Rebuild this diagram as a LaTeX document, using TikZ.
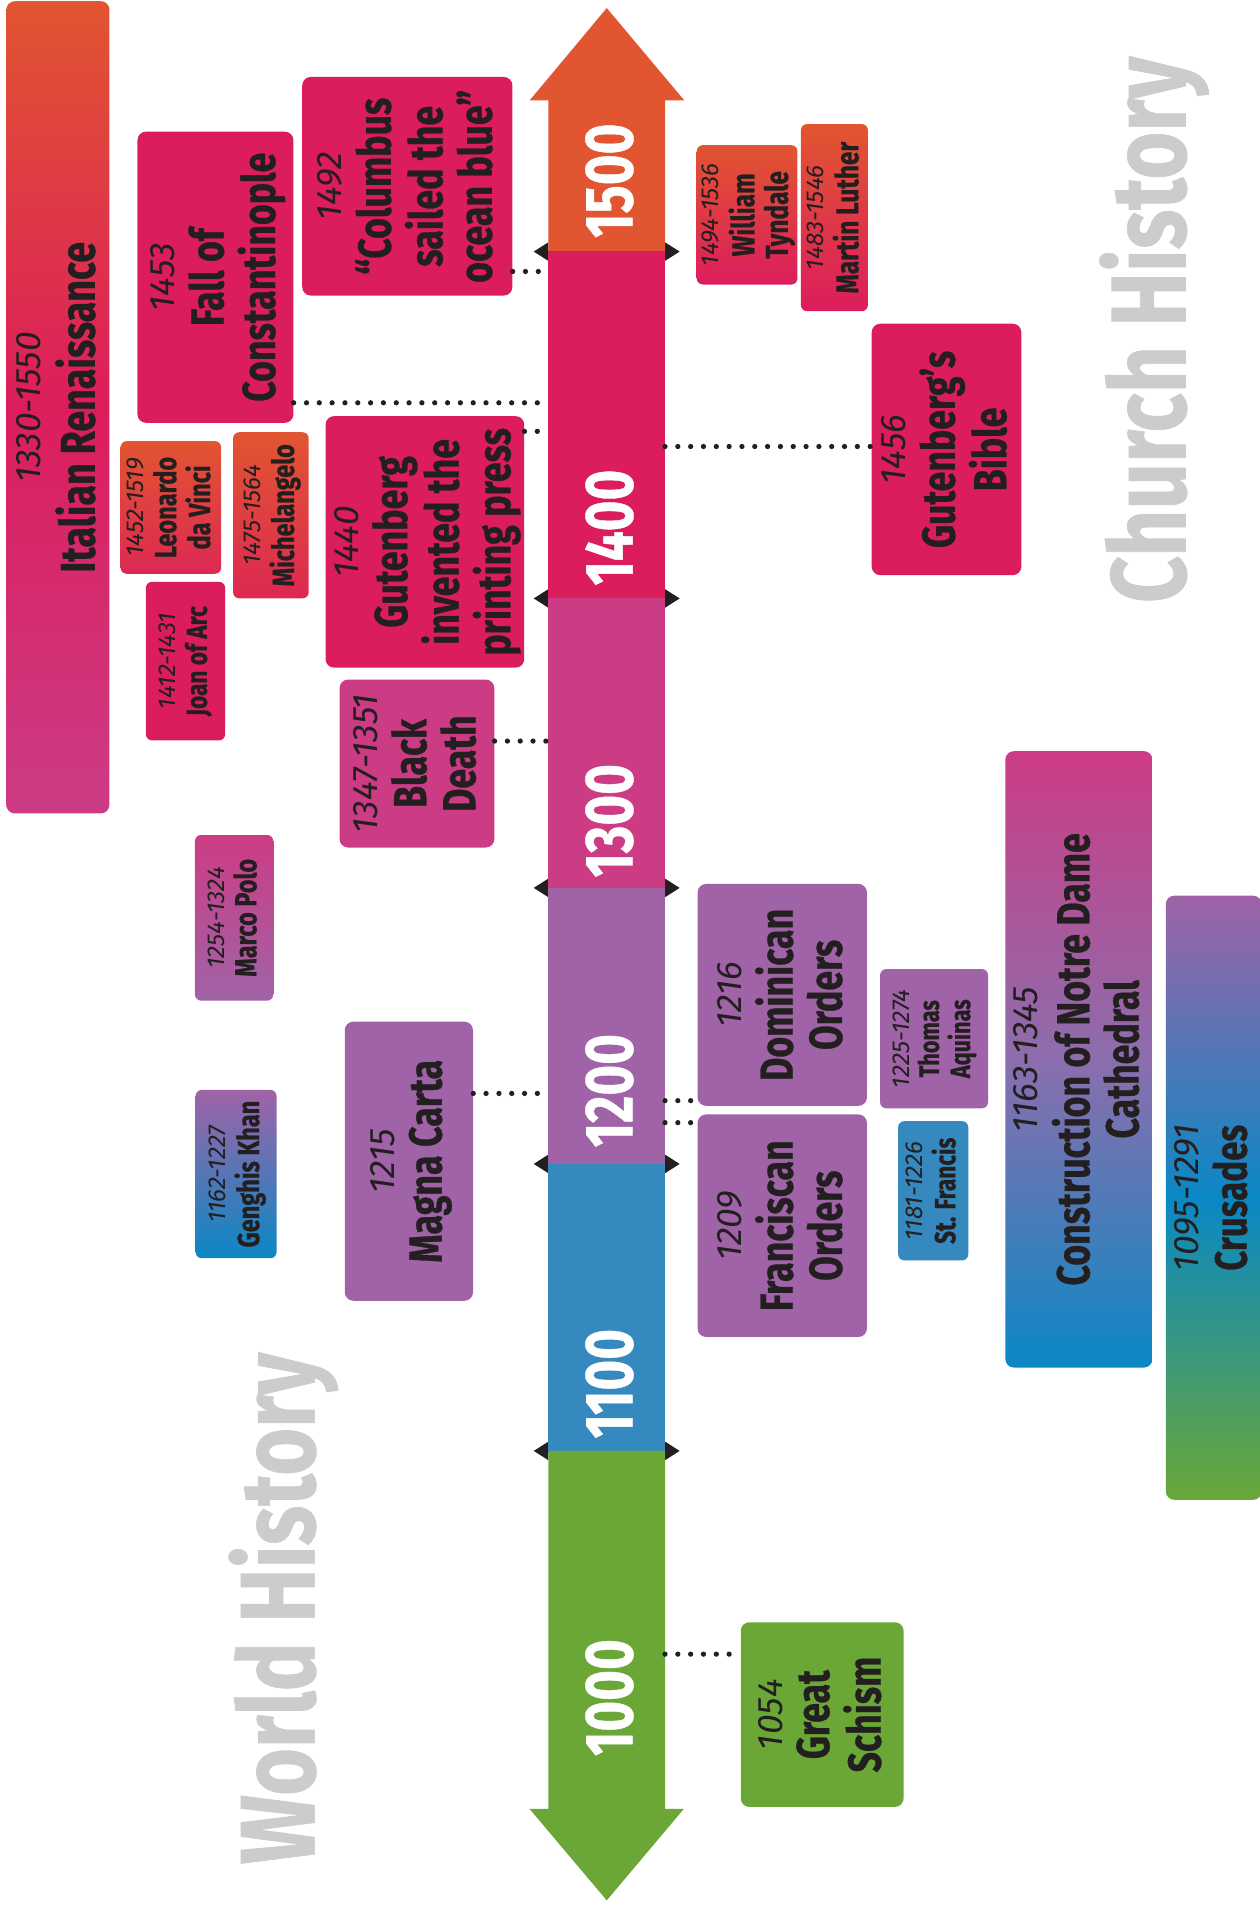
\documentclass[tikz,border=0pt]{standalone}
\usepackage{fontspec}
\setmainfont{Fira Sans}[FakeStretch=0.77,BoldFeatures={FakeBold=0.6}]
\newfontfamily\yrfont{Fira Sans}
\usepackage{array}
\usetikzlibrary{arrows.meta}

\definecolor{orangeC}{HTML}{E15530}
\definecolor{pinkC}{HTML}{DC1D5C}
\definecolor{magentaC}{HTML}{CC3C85}
\definecolor{purpleC}{HTML}{A063A7}
\definecolor{midpurpleC}{HTML}{8C6EAD}
\definecolor{blueC}{HTML}{3589BF}
\definecolor{deepblueC}{HTML}{0A88C5}
\definecolor{greenC}{HTML}{6AA737}
\definecolor{inkC}{HTML}{231F20}
\definecolor{grayC}{HTML}{CCCCCC}

\newcommand{\evt}[4]{\rotatebox{90}{\fontsize{#2}{#2}\selectfont\begin{tabular}{@{}>{\bfseries}c@{}}{\yrfont\fontsize{#1}{#1}\selectfont\mdseries\itshape #3}\\#4\end{tabular}}}

\begin{document}
\begin{tikzpicture}[x=1pt,y=-1pt,
	evbox/.style={rounded corners=7pt,inner sep=0pt,text=inkC},
	smallbox/.style={rounded corners=5pt,inner sep=0pt,text=inkC},
	dotlink/.style={inkC,line width=4.3pt,line cap=round,dash pattern=on 0pt off 10.5pt},
	eratick/.style={inkC,line width=1pt,{Triangle[length=12pt,width=15pt]}-{Triangle[length=12pt,width=15pt]}},
	axislbl/.style={text=white,rotate=90,inner sep=0pt,font=\fontsize{56}{56}\selectfont\bfseries},
	bigtitle/.style={text=grayC,rotate=90,inner sep=0pt,font=\fontsize{87}{87}\selectfont\bfseries}]
	\useasboundingbox (0,0) rectangle (1031,1568);

	\draw[eratick] (437,206) -- (556.5,206);
	\draw[eratick] (437,490) -- (556.5,490);
	\draw[eratick] (437,727) -- (556.5,727);
	\draw[eratick] (437,953) -- (556.5,953);
	\draw[eratick] (437,1188) -- (556.5,1188);

	\fill[orangeC] (433.7,82.2) -- (496.8,6.6) -- (560.3,82.2) -- (544.5,82.2) -- (544.5,206) -- (449.1,206) -- (449.1,82.2) -- cycle;
	\fill[pinkC] (449.1,206) rectangle (544.5,490);
	\fill[magentaC] (449.1,490) rectangle (544.5,727);
	\fill[purpleC] (449.1,727) rectangle (544.5,953);
	\fill[blueC] (449.1,953) rectangle (544.5,1188);
	\fill[greenC] (449.1,1188) -- (544.5,1188) -- (544.5,1481) -- (560,1481) -- (496.8,1556) -- (433.5,1481) -- (449.1,1481) -- cycle;

	\node[axislbl] (lbl1500) at (499,148) {1500};
	\node[axislbl] (lbl1400) at (499,432) {1400};
	\node[axislbl] (lbl1300) at (499,672) {1300};
	\node[axislbl] (lbl1200) at (499,893) {1200};
	\node[axislbl] (lbl1100) at (499,1133) {1100};
	\node[axislbl] (lbl1000) at (499,1390) {1000};

	\node[bigtitle] (church) at (945,270) {Church History};
	\node[bigtitle] (world) at (232,1317) {World History};

	\node[evbox,top color=orangeC,bottom color=magentaC,middle color=pinkC,minimum width=81.6pt,minimum height=665pt] (renais) at (47.4,333.5) {\evt{29}{40}{1330-1550}{Italian Renaissance}};
	\node[evbox,fill=pinkC,minimum width=127.7pt,minimum height=238.4pt] (consta) at (176.4,227) {\evt{29}{38}{1453}{Fall of\\Constantinople}};
	\node[evbox,fill=pinkC,minimum width=172.1pt,minimum height=179pt] (columbus) at (333.5,152.5) {\evt{29}{38}{1492}{“Columbus\\sailed the\\ocean blue”}};
	\node[evbox,fill=pinkC,minimum width=159.6pt,minimum height=205.9pt] (gutpress) at (347.9,443.7) {\evt{29}{38}{1440}{Gutenberg\\invented the\\printing press}};
	\node[smallbox,top color=orangeC,bottom color=pinkC!80!orangeC,minimum width=82.3pt,minimum height=108.6pt] (leonardo) at (139.9,415.5) {\evt{20}{25}{1452-1519}{Leonardo\\da Vinci}};
	\node[smallbox,top color=orangeC,bottom color=pinkC!80!orangeC,minimum width=61.9pt,minimum height=136pt] (michel) at (221.8,421.9) {\evt{20}{25}{1475-1564}{Michelangelo}};
	\node[smallbox,fill=pinkC,minimum width=64.9pt,minimum height=129.8pt] (joan) at (151.9,541.3) {\evt{20}{24}{1412-1431}{Joan of Arc}};
	\node[evbox,fill=magentaC,minimum width=126.7pt,minimum height=137.5pt] (blackdeath) at (341.4,625.2) {\evt{29}{38}{1347-1351}{Black\\Death}};
	\node[smallbox,top color=magentaC,bottom color=purpleC,minimum width=64.1pt,minimum height=135.6pt] (marcopolo) at (191.7,751.5) {\evt{20}{25}{1254-1324}{Marco Polo}};
	\node[smallbox,top color=purpleC,bottom color=deepblueC,minimum width=66.2pt,minimum height=137.8pt] (genghis) at (193.3,961.3) {\evt{20}{25}{1162-1227}{Genghis Khan}};
	\node[evbox,fill=purpleC,minimum width=105pt,minimum height=228.5pt] (magna) at (334.8,950.8) {\evt{29}{38}{1215}{Magna Carta}};

	\node[smallbox,top color=orangeC,bottom color=pinkC,minimum width=77.8pt,minimum height=114.1pt] (tyndale) at (611.7,175.9) {\evt{20}{26}{1494-1536}{William\\Tyndale}};
	\node[smallbox,top color=orangeC,bottom color=pinkC,minimum width=53.3pt,minimum height=153.2pt] (luther) at (683.2,178.2) {\evt{20}{26}{1483-1546}{Martin Luther}};
	\node[evbox,fill=pinkC,minimum width=122.5pt,minimum height=205.9pt] (gutbible) at (775,368) {\evt{29}{38}{1456}{Gutenberg’s\\Bible}};
	\node[evbox,fill=purpleC,minimum width=138.7pt,minimum height=181.7pt] (dominican) at (640.5,814.6) {\evt{29}{38}{1216}{Dominican\\Orders}};
	\node[evbox,fill=purpleC,minimum width=138.7pt,minimum height=182.2pt] (franciscan) at (640.5,1003.6) {\evt{29}{38}{1209}{Franciscan\\Orders}};
	\node[smallbox,fill=purpleC,minimum width=88.4pt,minimum height=114pt] (aquinas) at (764.8,850.5) {\evt{20}{23}{1225-1274}{Thomas\\Aquinas}};
	\node[smallbox,fill=blueC,minimum width=57.4pt,minimum height=114pt] (stfrancis) at (764.1,975) {\evt{20}{24}{1181-1226}{St. Francis}};
	\node[evbox,top color=magentaC,bottom color=deepblueC,middle color=midpurpleC,minimum width=119.3pt,minimum height=504.7pt] (notredame) at (883.4,867.4) {\evt{29}{38}{1163-1345}{Construction of Notre Dame\\Cathedral}};
	\node[evbox,top color=purpleC,bottom color=greenC,middle color=deepblueC,minimum width=78.5pt,minimum height=494.7pt] (crusades) at (993.8,980.7) {\evt{29}{37}{1095-1291}{Crusades}};
	\node[evbox,fill=greenC,minimum width=133.3pt,minimum height=151.2pt] (schism) at (673.2,1403.9) {\evt{29}{38}{1054}{Great\\Schism}};

	\coordinate (c1492) at (449.1,222.3);
	\coordinate (c1453) at (449.1,329.8);
	\coordinate (c1440) at (449.1,353.2);
	\coordinate (c1347) at (449.1,606.8);
	\coordinate (c1215) at (449.1,895.3);
	\coordinate (c1456) at (544.5,365.6);
	\coordinate (c1216) at (544.5,901.2);
	\coordinate (c1209) at (544.5,919.2);
	\coordinate (c1054) at (544.5,1354.4);

	\draw[dotlink] (columbus.east |- c1492) -- (c1492);
	\draw[dotlink] (consta.east |- c1453) -- (c1453);
	\draw[dotlink] (gutpress.east |- c1440) -- (c1440);
	\draw[dotlink] (blackdeath.east |- c1347) -- (c1347);
	\draw[dotlink] (magna.east |- c1215) -- (c1215);
	\draw[dotlink] (c1456) -- (gutbible.west |- c1456);
	\draw[dotlink] (c1216) -- (dominican.west |- c1216);
	\draw[dotlink] (c1209) -- (franciscan.west |- c1209);
	\draw[dotlink] (c1054) -- (schism.west |- c1054);
\end{tikzpicture}
\end{document}
